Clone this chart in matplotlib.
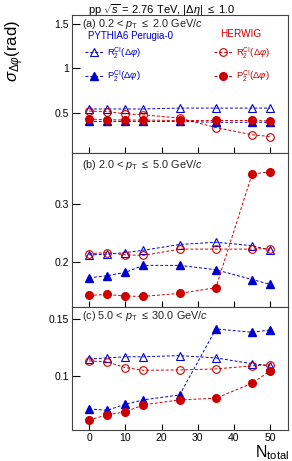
import matplotlib
matplotlib.use("Agg")
from matplotlib import pyplot as plt
from matplotlib.lines import Line2D

plt.rcParams['font.family'] = ['Liberation Sans', 'DejaVu Sans']
plt.rcParams['mathtext.fontset'] = 'custom'
plt.rcParams['mathtext.rm'] = 'Liberation Sans'
plt.rcParams['mathtext.it'] = 'Liberation Sans:italic'
plt.rcParams['mathtext.bf'] = 'Liberation Sans:bold'

# N_total bins
n_total = [0, 5, 10, 15, 25, 35, 45, 50]

# (a) 0.2 < pT <= 2.0
a_pythia_r2 = [0.54, 0.54, 0.54, 0.54, 0.55, 0.55, 0.55, 0.55]
a_pythia_p2 = [0.40, 0.40, 0.40, 0.40, 0.40, 0.39, 0.39, 0.39]
a_herwig_r2 = [0.516, 0.511, 0.485, 0.474, 0.437, 0.331, 0.249, 0.229]
a_herwig_p2 = [0.425, 0.42, 0.415, 0.415, 0.41, 0.41, 0.41, 0.405]

# (b) 2.0 < pT <= 5.0
b_pythia_r2 = [0.212, 0.213, 0.216, 0.220, 0.230, 0.234, 0.228, 0.220]
b_pythia_p2 = [0.172, 0.1756, 0.1814, 0.1936, 0.1936, 0.186, 0.169, 0.1605]
b_herwig_r2 = [0.214, 0.216, 0.212, 0.211, 0.222, 0.222, 0.222, 0.223]
b_herwig_p2 = [0.1413, 0.143, 0.140, 0.1396, 0.1448, 0.1547, 0.3527, 0.3568]

# (c) 5.0 < pT <= 30.0
c_pythia_r2 = [0.115, 0.116, 0.117, 0.117, 0.118, 0.116, 0.111, 0.109]
c_pythia_p2 = [0.0715, 0.0703, 0.0756, 0.0794, 0.0837, 0.1413, 0.1384, 0.1404]
c_herwig_r2 = [0.1134, 0.1125, 0.1076, 0.1052, 0.1055, 0.1064, 0.109, 0.1102]
c_herwig_p2 = [0.0619, 0.0663, 0.0689, 0.075, 0.0794, 0.0808, 0.0939, 0.1047]

panel_labels = [r"(a) 0.2 < $p_{\rm T}$ $\leq$ 2.0 GeV/$c$",
                r"(b) 2.0 < $p_{\rm T}$ $\leq$ 5.0 GeV/$c$",
                r"(c) 5.0 < $p_{\rm T}$ $\leq$ 30.0 GeV/$c$"]
ylims = [(0.04, 1.6), (0.1216, 0.389), (0.0531, 0.1607)]
yticks = [[0.5, 1.0, 1.5], [0.2, 0.3], [0.1, 0.15]]
ytick_labels = [['0.5', '1', '1.5'], ['0.2', '0.3'], ['0.1', '0.15']]

blue = '#0000cc'
red = '#cc0000'

fig = plt.figure(figsize=(2.92, 4.61), dpi=100)
left, right = 71.7 / 292, 288.3 / 292
edges = [15, 153.3, 306.7, 430]
axes = []
for i in range(3):
    top = 1 - edges[i] / 461
    bot = 1 - edges[i + 1] / 461
    axes.append(fig.add_axes([left, bot, right - left, top - bot]))

data = [
    (a_pythia_r2, a_pythia_p2, a_herwig_r2, a_herwig_p2),
    (b_pythia_r2, b_pythia_p2, b_herwig_r2, b_herwig_p2),
    (c_pythia_r2, c_pythia_p2, c_herwig_r2, c_herwig_p2),
]

ms = 5.5
dash = (0, (3, 2))
for i, ax in enumerate(axes):
    pr2, pp2, hr2, hp2 = data[i]
    kw = dict(linestyle=dash, linewidth=0.7, markersize=ms)
    ax.plot(n_total, pr2, marker='^', color=blue, mfc='none', mew=0.8, **kw)
    ax.plot(n_total, hr2, marker='o', color=red, mfc='none', mew=0.8, **kw)
    ax.plot(n_total, pp2, marker='^', color=blue, mec=blue, **kw)
    ax.plot(n_total, hp2, marker='o', color=red, mec=red, **kw)

    ax.set_xlim(-4.8, 55)
    ax.set_ylim(*ylims[i])
    ax.set_yticks(yticks[i])
    ax.set_yticklabels(ytick_labels[i])
    ax.set_xticks([0, 10, 20, 30, 40, 50])
    ax.tick_params(axis='y', direction='in', length=6, width=0.8, labelsize=7.5, pad=2)
    ax.tick_params(axis='x', direction='in', length=4, width=0.8, labelsize=7.5, pad=2)
    if i < 2:
        ax.tick_params(axis='x', labelbottom=False)
    for s in ax.spines.values():
        s.set_linewidth(0.8)
        s.set_color('#444444')
    ax.text(0.048, [0.935, 0.924, 0.927][i], panel_labels[i], transform=ax.transAxes,
            ha='left', va='center', fontsize=7.8, color='#222222')

# legends in panel (a)
ax = axes[0]
blue_handles = [
    Line2D([], [], color=blue, linestyle=dash, linewidth=0.7, marker='^', mfc='none', mew=0.8, markersize=ms),
    Line2D([], [], color=blue, linestyle=dash, linewidth=0.7, marker='^', markersize=ms),
]
red_handles = [
    Line2D([], [], color=red, linestyle=dash, linewidth=0.7, marker='o', mfc='none', mew=0.8, markersize=ms),
    Line2D([], [], color=red, linestyle=dash, linewidth=0.7, marker='o', markersize=ms),
]
labels = [r"R$_2^{\rm CI}$($\Delta\varphi$)", r"P$_2^{\rm CI}$($\Delta\varphi$)"]

leg1 = ax.legend(blue_handles, labels, loc='upper left', bbox_to_anchor=(0.06, 0.785),
                 frameon=False, fontsize=6.8, labelcolor=blue, handlelength=2.0,
                 handletextpad=0.4, labelspacing=0.85, borderpad=0, borderaxespad=0)
ax.add_artist(leg1)
leg2 = ax.legend(red_handles, labels, loc='upper left', bbox_to_anchor=(0.655, 0.785),
                 frameon=False, fontsize=6.8, labelcolor=red, handlelength=2.0,
                 handletextpad=0.4, labelspacing=0.85, borderpad=0, borderaxespad=0)
ax.text(0.075, 0.848, "PYTHIA6 Perugia-0", transform=ax.transAxes, ha='left', va='center',
        fontsize=7, color=blue)
ax.text(0.78, 0.862, "HERWIG", transform=ax.transAxes, ha='center', va='center',
        fontsize=7.2, color=red)

fig.text(0.555, 0.979, r"pp $\sqrt{s}$ = 2.76 TeV, |$\Delta\eta$| $\leq$ 1.0",
         ha='center', va='center', fontsize=8)
fig.text(0.05, 0.957, r"$\sigma_{\Delta\varphi}$(rad)", rotation=90, ha='center', va='top',
         fontsize=12)
fig.text(0.99, -0.002, r"N$_{\rm total}$", ha='right', va='bottom', fontsize=11.5)

fig.savefig('out.png', dpi=100)
